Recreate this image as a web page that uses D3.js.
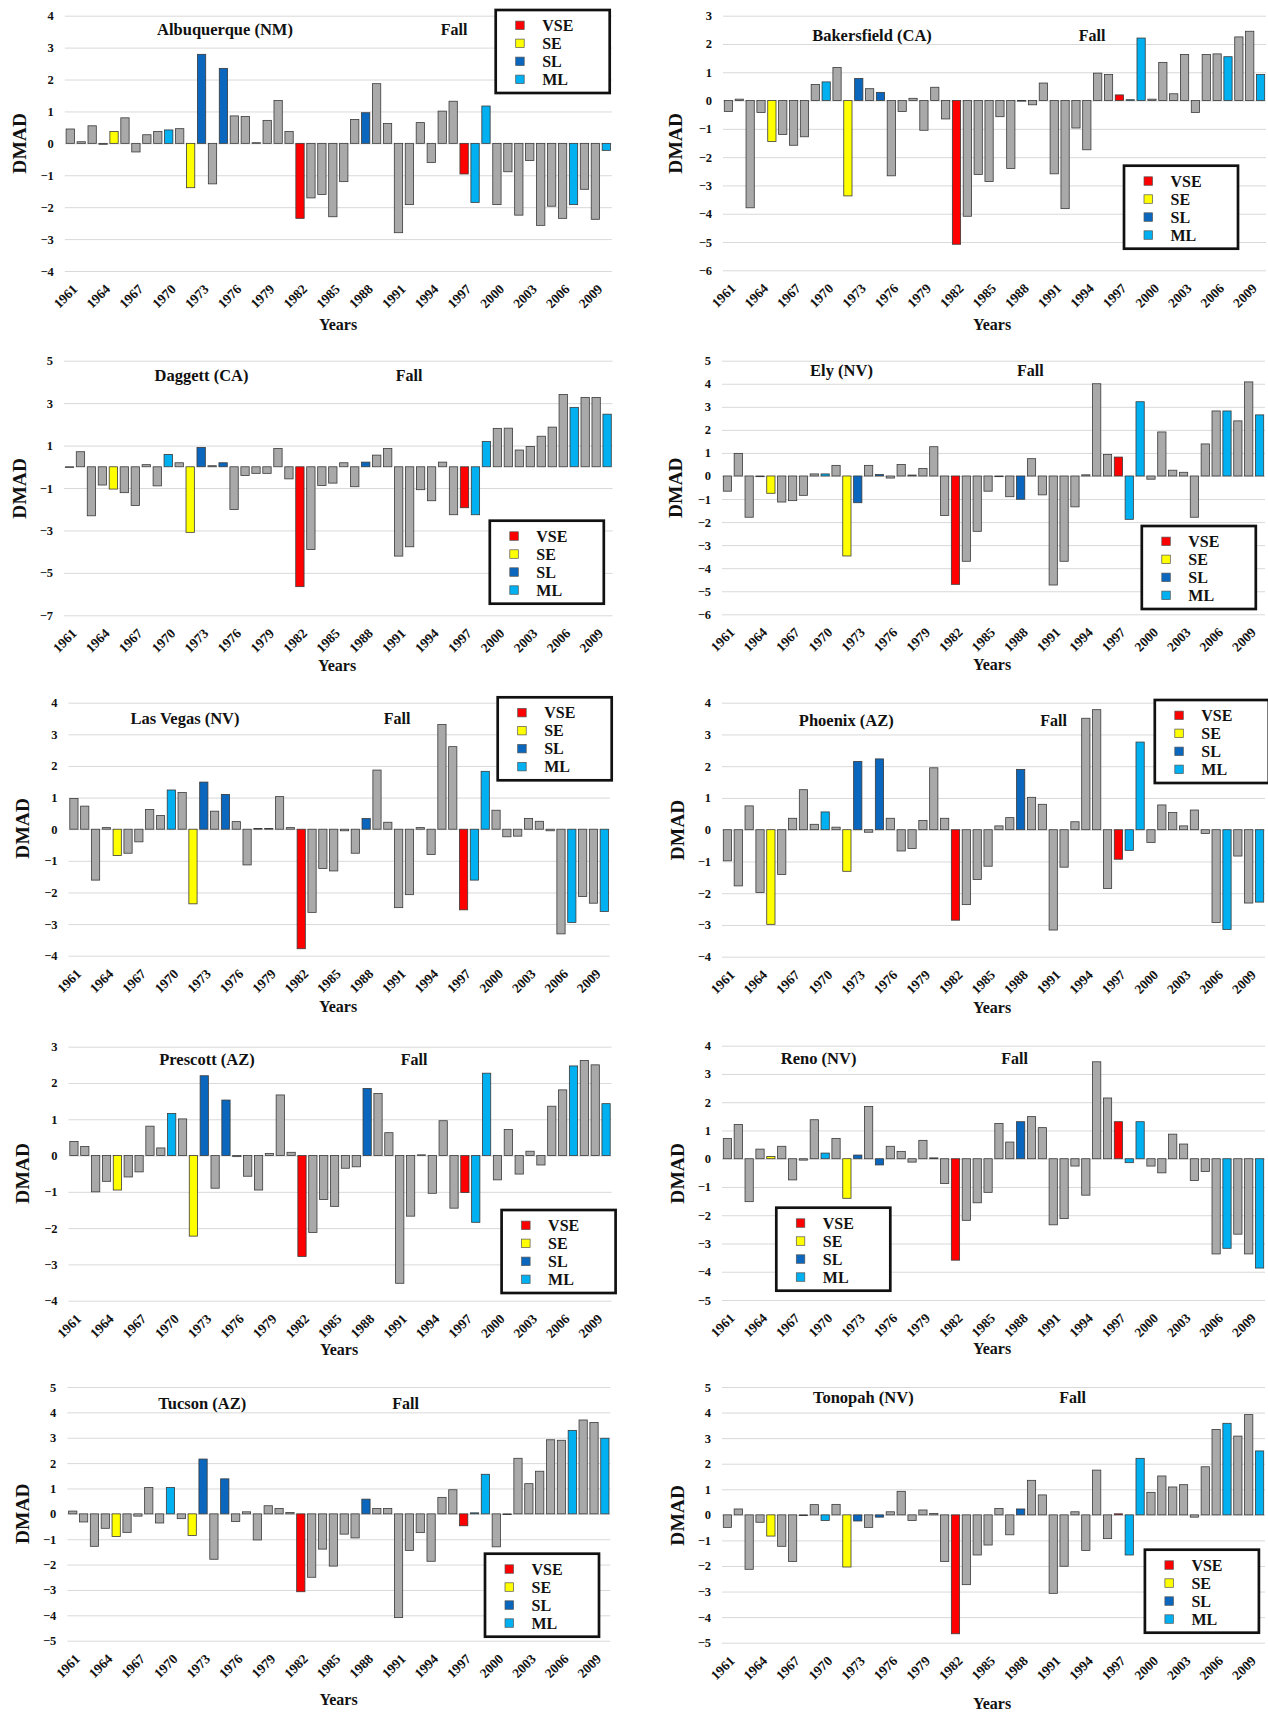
<!DOCTYPE html>
<html>
<head>
<meta charset="utf-8">
<script src="https://cdn.jsdelivr.net/npm/d3@7"></script>
<style>
  body { margin: 0; background: #ffffff; }
  svg { display: block; }
  text { font-family: "Liberation Serif", "DejaVu Serif", serif; font-weight: bold; fill: #111; }
</style>
</head>
<body>
<svg id="chart" width="1268" height="1714"></svg>
<script>
// ---- Categories ----
const years = [1961,1962,1963,1964,1965,1966,1967,1968,1969,1970,
               1971,1972,1973,1974,1975,1976,1977,1978,1979,1980,
               1981,1982,1983,1984,1985,1986,1987,1988,1989,1990,
               1991,1992,1993,1994,1995,1996,1997,1998,1999,2000,
               2001,2002,2003,2004,2005,2006,2007,2008,2009,2010];
const yearTickLabels = [1961,1964,1967,1970,1973,1976,1979,1982,1985,1988,1991,1994,1997,2000,2003,2006,2009];

// ENSO event classes
const vseYears = [1982, 1997];
const seYears  = [1965, 1972];
const slYears  = [1973, 1975, 1988];
const mlYears  = [1970, 1998, 1999, 2007, 2010];
const legendLabels = ["VSE", "SE", "SL", "ML"];

const stationNames = ["Albuquerque (NM)", "Bakersfield (CA)", "Daggett (CA)", "Ely (NV)",
                      "Las Vegas (NV)", "Phoenix (AZ)", "Prescott (AZ)", "Reno (NV)",
                      "Tucson (AZ)", "Tonopah (NV)"];
const seasonLabel = "Fall";
const yAxisLabel = "DMAD";
const xAxisLabel = "Years";

// ---- DMAD values, 1961-2010 ----
const albuquerque = [0.45,0.05,0.55,-0.03,0.37,0.80,-0.27,0.27,0.37,0.42,
                     0.46,-1.39,2.79,-1.27,2.35,0.86,0.84,0.02,0.72,1.34,
                     0.37,-2.35,-1.71,-1.60,-2.30,-1.20,0.75,0.96,1.87,0.62,
                     -2.80,-1.92,0.65,-0.60,1.01,1.32,-0.96,-1.85,1.17,-1.92,
                     -0.89,-2.25,-0.54,-2.57,-1.97,-2.35,-1.92,-1.44,-2.38,-0.22];
const bakersfield = [-0.39,0.05,-3.79,-0.42,-1.45,-1.20,-1.58,-1.28,0.57,0.66,
                     1.17,-3.37,0.78,0.42,0.29,-2.66,-0.39,0.08,-1.05,0.47,
                     -0.65,-5.08,-4.09,-2.61,-2.86,-0.57,-2.40,-0.02,-0.15,0.62,
                     -2.59,-3.82,-0.97,-1.74,0.97,0.92,0.20,0.03,2.21,0.05,
                     1.35,0.24,1.63,-0.42,1.63,1.65,1.55,2.25,2.45,0.92];
const daggett = [-0.03,0.71,-2.31,-0.86,-1.05,-1.22,-1.82,0.10,-0.90,0.58,
                 0.19,-3.09,0.91,0.05,0.19,-2.01,-0.41,-0.31,-0.31,0.86,
                 -0.57,-5.65,-3.90,-0.88,-0.77,0.19,-0.94,0.22,0.55,0.86,
                 -4.21,-3.77,-1.08,-1.60,0.22,-2.26,-1.93,-2.26,1.19,1.81,
                 1.82,0.79,0.96,1.44,1.87,3.41,2.80,3.27,3.27,2.48];
const ely = [-0.66,0.98,-1.79,-0.03,-0.75,-1.13,-1.07,-0.84,0.09,0.09,
             0.46,-3.47,-1.16,0.46,0.06,-0.09,0.50,0.04,0.32,1.27,
             -1.71,-4.70,-3.70,-2.40,-0.66,-0.03,-0.90,-1.01,0.75,-0.82,
             -4.73,-3.70,-1.34,0.05,4.00,0.93,0.82,-1.88,3.22,-0.14,
             1.91,0.25,0.16,-1.79,1.39,2.82,2.82,2.39,4.08,2.65];
const lasVegas = [0.97,0.73,-1.61,0.05,-0.83,-0.76,-0.40,0.62,0.43,1.24,
                  1.16,-2.36,1.49,0.57,1.10,0.24,-1.13,0.02,0.02,1.03,
                  0.05,-3.78,-2.63,-1.24,-1.32,-0.05,-0.76,0.34,1.87,0.22,
                  -2.48,-2.07,0.05,-0.80,3.31,2.61,-2.55,-1.61,1.83,0.60,
                  -0.24,-0.22,0.34,0.25,-0.05,-3.31,-2.95,-2.13,-2.34,-2.60];
const phoenix = [-0.98,-1.77,0.75,-1.98,-2.98,-1.41,0.36,1.26,0.17,0.56,
                 0.08,-1.31,2.15,-0.08,2.23,0.36,-0.67,-0.59,0.29,1.95,
                 0.36,-2.85,-2.36,-1.57,-1.15,0.12,0.38,1.90,1.02,0.80,
                 -3.16,-1.18,0.25,3.51,3.78,-1.85,-0.93,-0.65,2.76,-0.40,
                 0.78,0.54,0.12,0.62,-0.12,-2.92,-3.14,-0.83,-2.31,-2.28];
const prescott = [0.39,0.25,-1.00,-0.71,-0.95,-0.59,-0.45,0.81,0.21,1.16,
                  1.01,-2.22,2.20,-0.90,1.53,-0.03,-0.57,-0.95,0.06,1.67,
                  0.09,-2.78,-2.12,-1.21,-1.40,-0.35,-0.31,1.85,1.71,0.63,
                  -3.52,-1.67,0.02,-1.04,0.96,-1.45,-1.02,-1.84,2.27,-0.67,
                  0.72,-0.51,0.12,-0.26,1.36,1.81,2.47,2.62,2.50,1.43];
const reno = [0.72,1.21,-1.52,0.34,0.08,0.44,-0.75,-0.05,1.38,0.20,
              0.72,-1.40,0.13,1.85,-0.22,0.44,0.26,-0.12,0.65,0.03,
              -0.88,-3.59,-2.18,-1.56,-1.19,1.25,0.59,1.31,1.49,1.10,
              -2.34,-2.12,-0.26,-1.29,3.43,2.15,1.31,-0.14,1.31,-0.26,
              -0.50,0.87,0.52,-0.77,-0.45,-3.37,-3.17,-2.67,-3.37,-3.87];
const tucson = [0.11,-0.32,-1.28,-0.57,-0.89,-0.73,-0.09,1.04,-0.36,1.04,
                -0.19,-0.85,2.16,-1.79,1.38,-0.30,0.08,-1.03,0.32,0.21,
                0.05,-3.07,-2.50,-1.39,-2.06,-0.80,-0.95,0.58,0.21,0.21,
                -4.09,-1.44,-0.74,-1.87,0.65,0.95,-0.47,0.04,1.56,-1.30,
                -0.03,2.19,1.19,1.68,2.92,2.90,3.29,3.70,3.60,2.98];
const tonopah = [-0.49,0.23,-2.13,-0.29,-0.83,-1.23,-1.82,-0.03,0.40,-0.22,
                 0.41,-2.04,-0.24,-0.49,-0.09,0.12,0.92,-0.22,0.19,0.05,
                 -1.82,-4.65,-2.73,-1.57,-1.18,0.25,-0.78,0.23,1.35,0.78,
                 -3.07,-2.01,0.12,-1.39,1.75,-0.93,0.04,-1.57,2.21,0.88,
                 1.52,1.09,1.18,-0.09,1.88,3.34,3.58,3.08,3.92,2.50];

// ---- Y-axis tick values per station ----
const albuquerqueTicks = [-4,-3,-2,-1,0,1,2,3,4];
const bakersfieldTicks = [-6,-5,-4,-3,-2,-1,0,1,2,3];
const daggettTicks     = [-7,-5,-3,-1,1,3,5];
const elyTicks         = [-6,-5,-4,-3,-2,-1,0,1,2,3,4,5];
const lasVegasTicks    = [-4,-3,-2,-1,0,1,2,3,4];
const phoenixTicks     = [-4,-3,-2,-1,0,1,2,3,4];
const prescottTicks    = [-4,-3,-2,-1,0,1,2,3];
const renoTicks        = [-5,-4,-3,-2,-1,0,1,2,3,4];
const tucsonTicks      = [-5,-4,-3,-2,-1,0,1,2,3,4,5];
const tonopahTicks     = [-5,-4,-3,-2,-1,0,1,2,3,4,5];

// ---- Styling ----
const FONT = '"Liberation Serif", "DejaVu Serif", serif';
const classColor = { VSE: "#ff0000", SE: "#ffff00", SL: "#0a67bd", ML: "#00b0f0", none: "#a9a9a9" };
function yearClass(yr) {
  if (vseYears.includes(yr)) return "VSE";
  if (seYears.includes(yr)) return "SE";
  if (slYears.includes(yr)) return "SL";
  if (mlYears.includes(yr)) return "ML";
  return "none";
}

// ---- Panel layout (panel-relative coordinates) ----
const panels = [
  { values: albuquerque, ticks: albuquerqueTicks, ox: 0,   oy: 0,    x0: 64.8, x1: 611.8, top: 15.7, bot: 271.0,
    title: [225, 35],   fall: 454, legend: [495.7, 10],    years: [338, 330],   ylab: [19, 143.3] },
  { values: bakersfield, ticks: bakersfieldTicks, ox: 648, oy: 0,    x0: 75.0, x1: 618.0, top: 15.7, bot: 270.3,
    title: [224, 41],   fall: 444, legend: [476, 165.7],   years: [344, 330],   ylab: [27.6, 143.3] },
  { values: daggett,     ticks: daggettTicks,     ox: 0,   oy: 345,  x0: 64.0, x1: 612.6, top: 15.7, bot: 270.3,
    title: [201.5, 36], fall: 409, legend: [489.8, 175.7], years: [337, 326],   ylab: [19, 143.3] },
  { values: ely,         ticks: elyTicks,         ox: 648, oy: 345,  x0: 74.0, x1: 617.0, top: 15.7, bot: 269.3,
    title: [193.5, 31], fall: 382.4, legend: [493.8, 181], years: [344, 325],   ylab: [27.6, 142.7] },
  { values: lasVegas,    ticks: lasVegasTicks,    ox: 0,   oy: 690,  x0: 68.5, x1: 609.7, top: 12.7, bot: 265.7,
    title: [185, 34],   fall: 397, legend: [497.7, 7.3],   years: [338, 321.7], ylab: [22, 138.3] },
  { values: phoenix,     ticks: phoenixTicks,     ox: 648, oy: 690,  x0: 74.0, x1: 617.0, top: 12.7, bot: 266.7,
    title: [198.3, 36], fall: 405.6, legend: [506.8, 10],  years: [344, 323.3], ylab: [29, 140] },
  { values: prescott,    ticks: prescottTicks,    ox: 0,   oy: 1030, x0: 68.5, x1: 611.5, top: 16.7, bot: 270.7,
    title: [207, 35],   fall: 414, legend: [501.6, 180],   years: [339, 325],   ylab: [22, 143.3] },
  { values: reno,        ticks: renoTicks,        ox: 648, oy: 1030, x0: 74.0, x1: 617.0, top: 15.7, bot: 270.0,
    title: [170.6, 34.3], fall: 366.5, legend: [128.3, 177.7], years: [344, 324.3], ylab: [29, 143.3] },
  { values: tucson,      ticks: tucsonTicks,      ox: 0,   oy: 1372, x0: 67.3, x1: 610.3, top: 15.0, bot: 268.7,
    title: [202.3, 36.7], fall: 405.6, legend: [485, 181.7], years: [338.5, 332.7], ylab: [22, 141.7] },
  { values: tonopah,     ticks: tonopahTicks,     ox: 648, oy: 1372, x0: 74.0, x1: 617.0, top: 15.0, bot: 270.7,
    title: [215.3, 31], fall: 424.6, legend: [496.9, 177.7], years: [344, 336.7], ylab: [29, 143.3] }
];

const svg = d3.select("#chart");

panels.forEach((p, i) => {
  const g = svg.append("g").attr("transform", `translate(${p.ox},${p.oy})`);

  const x = d3.scaleBand().domain(years).range([p.x0, p.x1]).paddingInner(0.24).paddingOuter(0.12);
  const y = d3.scaleLinear().domain([d3.min(p.ticks), d3.max(p.ticks)]).range([p.bot, p.top]);

  // Gridlines + y tick labels
  const yAxis = g.append("g")
    .attr("transform", `translate(${p.x0},0)`)
    .call(d3.axisLeft(y).tickValues(p.ticks).tickSize(-(p.x1 - p.x0)).tickPadding(11).tickFormat(d3.format("d")));
  yAxis.select(".domain").remove();
  yAxis.selectAll(".tick line").attr("stroke", "#d9d9d9").attr("stroke-width", 1);
  yAxis.selectAll(".tick text")
    .style("font-family", FONT).style("font-weight", "bold").style("font-size", "12.5px").attr("fill", "#111");

  // Bars
  g.append("g").selectAll("rect")
    .data(years.map((yr, k) => ({ yr, v: p.values[k] })))
    .join("rect")
    .attr("x", d => x(d.yr))
    .attr("width", x.bandwidth())
    .attr("y", d => y(Math.max(0, d.v)))
    .attr("height", d => Math.abs(y(d.v) - y(0)))
    .attr("fill", d => classColor[yearClass(d.yr)])
    .attr("stroke", "#3a3a3a")
    .attr("stroke-width", 0.8);

  // X axis labels (rotated)
  const xAxis = g.append("g")
    .attr("transform", `translate(0,${p.bot})`)
    .call(d3.axisBottom(x).tickValues(yearTickLabels).tickSize(0));
  xAxis.select(".domain").remove();
  xAxis.selectAll(".tick text")
    .attr("x", 0).attr("y", 0).attr("dy", 0)
    .attr("text-anchor", "end")
    .attr("transform", "translate(8,19) rotate(-45)")
    .style("font-family", FONT).style("font-weight", "bold").style("font-size", "13.5px").attr("fill", "#111");

  // Station title and season
  g.append("text").attr("x", p.title[0]).attr("y", p.title[1])
    .attr("text-anchor", "middle").style("font-size", "16.5px").text(stationNames[i]);
  g.append("text").attr("x", p.fall).attr("y", p.title[1])
    .attr("text-anchor", "middle").style("font-size", "16px").text(seasonLabel);

  // Axis titles
  g.append("text").attr("x", p.years[0]).attr("y", p.years[1])
    .attr("text-anchor", "middle").style("font-size", "16px").text(xAxisLabel);
  g.append("text")
    .attr("transform", `translate(${p.ylab[0]},${p.ylab[1]}) rotate(-90)`)
    .attr("text-anchor", "middle").attr("dy", "0.35em")
    .style("font-size", "19.5px").text(yAxisLabel);

  // Legend
  const lg = g.append("g").attr("transform", `translate(${p.legend[0]},${p.legend[1]})`);
  lg.append("rect").attr("width", 114).attr("height", 83)
    .attr("fill", "#fff").attr("stroke", "#111").attr("stroke-width", 2.7);
  const rowY = d3.scalePoint().domain(legendLabels).range([15.3, 69.3]);
  legendLabels.forEach(lbl => {
    lg.append("rect").attr("x", 20).attr("y", rowY(lbl) - 4.2).attr("width", 8.5).attr("height", 8.5)
      .attr("fill", classColor[lbl]).attr("stroke", "#555").attr("stroke-width", 0.7);
    lg.append("text").attr("x", 46.5).attr("y", rowY(lbl)).attr("dy", "0.35em")
      .style("font-size", "16px").text(lbl);
  });
});
</script>
</body>
</html>
